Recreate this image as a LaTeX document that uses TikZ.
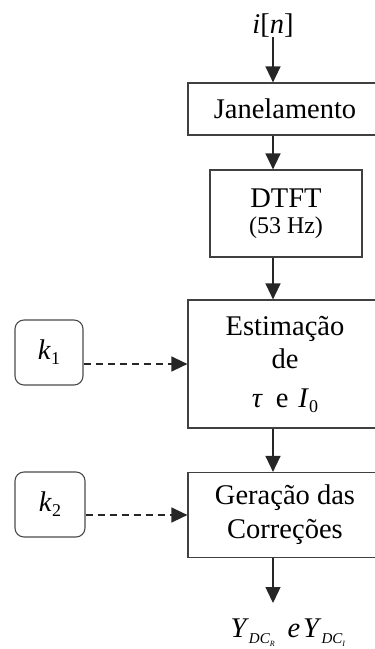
\documentclass[tikz,border=0pt]{standalone}
\usepackage{fontspec}
\setmainfont{Liberation Serif}
\usetikzlibrary{arrows.meta}
\newcommand{\subsc}[2]{\raisebox{#1}{\fontsize{18}{18}\selectfont #2}}
\begin{document}
\begin{tikzpicture}[x=1pt,y=-1pt,
  box/.style={draw=black!75, line width=1.2pt, inner sep=0pt, align=center,
    font=\fontsize{28.5}{31}\selectfont},
  kbox/.style={draw=black!70, line width=1.1pt, rounded corners=9pt,
    minimum width=68pt, minimum height=65pt, inner sep=0pt,
    font=\fontsize{28.5}{31}\selectfont},
  lbl/.style={inner sep=0pt, font=\fontsize{28.5}{31}\selectfont},
  arr/.style={draw=black!85, line width=1.4pt, -{Triangle[length=16pt,width=15pt]}},
  darr/.style={arr, line width=1.5pt, dash pattern=on 7pt off 5pt}]
\useasboundingbox (0,0) rectangle (375,649);
\clip (0,0) rectangle (375,649);

\node[lbl, anchor=base] (in) at (273,33) {\textit{i}[\textit{n}]};

\node[box, minimum width=194pt, minimum height=52pt] (jan) at (285,109) {Janelamento};
\node[box, minimum width=152pt, minimum height=87pt] (dtft) at (286,213.5)
  {DTFT\\[-5pt]{\fontsize{24}{27}\selectfont (53 Hz)}};
\node[box, minimum width=194pt, minimum height=128pt] (est) at (285,364)
  {Estimação\\[2pt]de\\[8pt]\textit{τ}\hspace{0.45em}e\hspace{0.35em}\textit{I}\subsc{-5pt}{0}};
\node[box, minimum width=194pt, minimum height=85pt] (ger) at (285,515)
  {Geração das\\[3pt]Correções};

\node[kbox] (k1) at (49,352.5) {\textit{k}\subsc{-5pt}{1}};
\node[kbox, minimum width=70pt] (k2) at (50,504.5) {\textit{k}\subsc{-5pt}{2}};

\coordinate (outtip) at (273,603);
\node[lbl, anchor=base] (out) at (288,637)
  {\textit{Y}\raisebox{-6pt}{\fontsize{15}{15}\selectfont\textit{DC}\raisebox{-3pt}{\fontsize{8}{8}\selectfont\textit{R}}}\hspace{0.45em}\textit{e}\hspace{0.1em}\textit{Y}\raisebox{-6pt}{\fontsize{15}{15}\selectfont\textit{DC}\raisebox{-3pt}{\fontsize{8}{8}\selectfont\textit{I}}}};

\draw[arr] (in.south) -- (jan.north -| in);
\draw[arr] (jan.south -| in) -- (dtft.north -| in);
\draw[arr] (dtft.south -| in) -- (est.north -| in);
\draw[arr] (est.south -| in) -- (ger.north -| in);
\draw[arr] (ger.south -| in) -- (outtip);
\draw[darr] (k1.east |- est.west) -- (est.west);
\draw[darr] (k2.east |- ger.west) -- (ger.west);
\end{tikzpicture}
\end{document}
